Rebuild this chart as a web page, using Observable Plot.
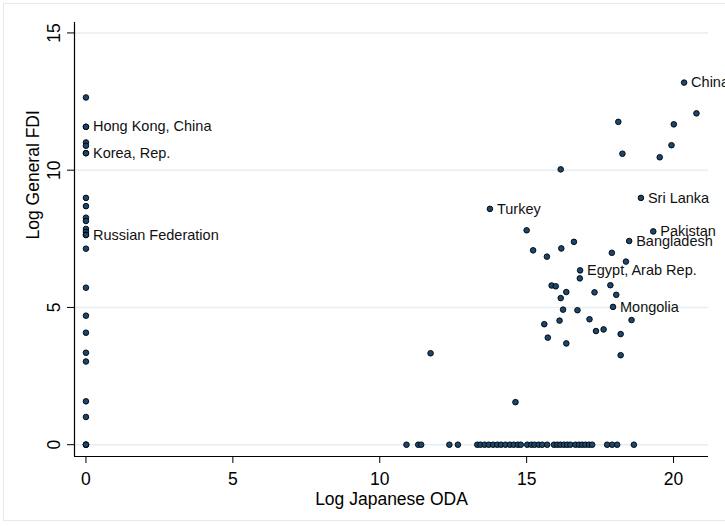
<!DOCTYPE html>
<html>
<head>
<meta charset="utf-8">
<script src="https://cdn.jsdelivr.net/npm/d3@7"></script>
<script src="https://cdn.jsdelivr.net/npm/@observablehq/plot@0.6"></script>
<style>
  html, body { margin: 0; padding: 0; background: #fff; overflow: hidden; }
  #wrap { position: relative; width: 725px; height: 526px; overflow: hidden; }
  #border { position: absolute; left: 3px; top: 3px; width: 760px; height: 518px; border: 1px solid #e3eaec; box-sizing: border-box; pointer-events: none; }
  #chart svg { max-width: none !important; display: block; }
</style>
</head>
<body>
<div id="wrap"><div id="border"></div><div id="chart"></div></div>
<script>
// Countries with zero Japanese ODA (x = 0): Log General FDI values
const zeroOdaFdi = [12.65, 11.58, 11.01, 10.89, 10.62, 8.99, 8.69, 8.27, 8.15, 7.86, 7.75, 7.64, 7.14,
  5.72, 4.70, 4.08, 3.35, 3.03, 1.58, 1.01, 0, 0, 0];

// Countries with zero FDI (y = 0): Log Japanese ODA values
const zeroFdiOda = [10.91, 11.31, 11.41, 12.37, 12.66, 13.32, 13.43, 13.57, 13.71, 13.86, 14.0, 14.13,
  14.28, 14.43, 14.56, 14.70, 14.80, 15.02, 15.16, 15.27, 15.41, 15.53, 15.70, 15.93, 16.04, 16.15,
  16.27, 16.38, 16.49, 16.66, 16.78, 16.89, 17.0, 17.12, 17.23, 17.74, 17.91, 18.08, 18.65];

// Other (unlabelled) countries with both ODA and FDI
const otherOda = [20.78, 18.12, 20.01, 19.93, 18.26, 19.53, 16.16, 15.0, 16.61, 16.18, 15.22, 17.90,
  15.69, 18.38, 16.81, 17.85, 15.85, 15.99, 16.35, 17.31, 18.05, 16.16, 16.24, 16.73, 17.14, 16.12,
  18.57, 15.60, 17.62, 17.36, 18.20, 15.72, 16.35, 18.20, 11.73, 14.62];
const otherFdi = [12.07, 11.76, 11.67, 10.91, 10.60, 10.47, 10.03, 7.81, 7.39, 7.15, 7.08, 6.99,
  6.85, 6.67, 6.06, 5.81, 5.80, 5.77, 5.56, 5.55, 5.46, 5.34, 4.92, 4.90, 4.57, 4.52,
  4.54, 4.39, 4.20, 4.14, 4.03, 3.90, 3.69, 3.26, 3.33, 1.55];

// Labelled countries
const labelNames = ["Hong Kong, China", "Korea, Rep.", "Russian Federation", "China", "Sri Lanka",
  "Turkey", "Pakistan", "Bangladesh", "Egypt, Arab Rep.", "Mongolia"];
const labelOda = [0, 0, 0, 20.36, 18.89, 13.75, 19.31, 18.49, 16.82, 17.94];
const labelFdi = [11.58, 10.62, 7.64, 13.19, 8.99, 8.59, 7.77, 7.42, 6.35, 5.02];

const xTicks = [0, 5, 10, 15, 20];
const yTicks = [0, 5, 10, 15];
const xTitle = "Log Japanese ODA";
const yTitle = "Log General FDI";

const points = [
  ...zeroOdaFdi.map(f => ({oda: 0, fdi: f})),
  ...zeroFdiOda.map(o => ({oda: o, fdi: 0})),
  ...otherOda.map((o, i) => ({oda: o, fdi: otherFdi[i]})),
  ...labelNames.map((n, i) => ({oda: labelOda[i], fdi: labelFdi[i], name: n}))
];
const labelled = points.filter(d => d.name);

const xDomain = [-0.39, 21.19];
const yDomain = [-0.43, 15.38];

const chart = Plot.plot({
  width: 760,
  height: 526,
  marginLeft: 74,
  marginRight: 52,
  marginTop: 22,
  marginBottom: 70,
  style: {fontFamily: '"Liberation Sans", Arial, sans-serif', background: "transparent", maxWidth: "none"},
  x: {domain: xDomain},
  y: {domain: yDomain},
  marks: [
    Plot.ruleY(yTicks, {stroke: "#e6eef1", strokeWidth: 1.6}),
    Plot.axisX({ticks: xTicks, tickSize: 7, tickPadding: 9, fontSize: 17.5, tickFormat: d => String(d), label: null, stroke: "#000", color: "#000"}),
    Plot.axisY({ticks: yTicks, tickSize: 7, text: null, label: null, stroke: "#000"}),
    Plot.text(yTicks, {y: d => d, text: d => String(d), frameAnchor: "left", dx: -20, rotate: -90,
      textAnchor: "middle", lineAnchor: "middle", fontSize: 17.5, fill: "#000"}),
    Plot.text([xTitle], {text: d => d, frameAnchor: "bottom", dy: 43, lineAnchor: "middle", fontSize: 17.5, fill: "#000"}),
    Plot.text([yTitle], {text: d => d, frameAnchor: "left", dx: -41, rotate: -90, lineAnchor: "middle", fontSize: 17.5, fill: "#000"}),
    Plot.ruleX([xDomain[0]], {stroke: "#000", strokeWidth: 1.2}),
    Plot.ruleY([yDomain[0]], {stroke: "#000", strokeWidth: 1.2}),
    Plot.dot(points, {x: "oda", y: "fdi", r: 2.8, fill: "#1a476f", stroke: "#000", strokeWidth: 0.9}),
    Plot.text(labelled, {x: "oda", y: "fdi", text: "name", dx: 7, textAnchor: "start", fontSize: 14.5, fill: "#111"})
  ]
});
document.getElementById("chart").appendChild(chart);
</script>
</body>
</html>
